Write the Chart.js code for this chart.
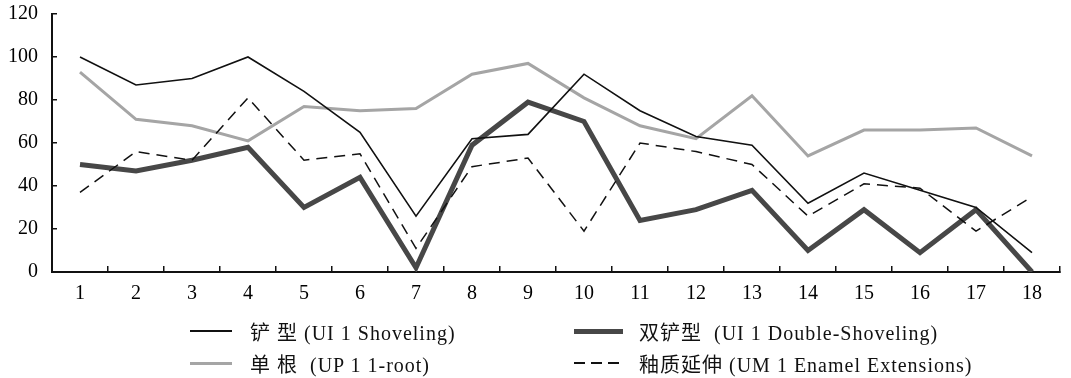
<!DOCTYPE html>
<html>
<head>
<meta charset="utf-8">
<script src="https://cdn.jsdelivr.net/npm/chart.js@4.4.1/dist/chart.umd.min.js"></script>
<style>
  html, body { margin: 0; padding: 0; background: #fff; }
  #wrap { position: relative; width: 1071px; height: 378px; overflow: hidden; }
  #plot { position: absolute; left: 0; top: -17px; width: 1071px; height: 327px; }
  #legend { position: absolute; left: 0; top: 0; width: 1071px; height: 378px; pointer-events: none;
            font-family: "Liberation Serif", "Noto Sans CJK SC", serif; font-size: 20px; letter-spacing: 1px; color: #111; }
  .item { position: absolute; height: 26px; display: flex; align-items: center; white-space: pre; }
  .swatch { display: inline-block; }
</style>
</head>
<body>
<div id="wrap">
  <div id="plot"><canvas id="chart"></canvas></div>
  <div id="legend"></div>
</div>
<script>
// Tooth numbers along the x axis
const categories = ['1','2','3','4','5','6','7','8','9','10','11','12','13','14','15','16','17','18'];

// Percentages per trait
const shoveling       = [100, 87, 90, 100, 84, 65, 26, 62, 64, 92, 75, 63, 59, 32, 46, 38, 30, 9];
const doubleShoveling = [50, 47, 52, 58, 30, 44, 2, 59, 79, 70, 24, 29, 38, 10, 29, 9, 29, 0];
const oneRoot         = [93, 71, 68, 61, 77, 75, 76, 92, 97, 81, 68, 62, 82, 54, 66, 66, 67, 54];
const enamelExt       = [37, 56, 52, 81, 52, 55, 11, 49, 53, 19, 60, 56, 50, 26, 41, 39, 19, 35];

// Series names and y-axis ticks
const seriesNames = [
  '铲 型 (UI 1 Shoveling)',
  '双铲型  (UI 1 Double-Shoveling)',
  '单 根  (UP 1 1-root)',
  '釉质延伸 (UM 1 Enamel Extensions)'
];
const yTicks = [0, 20, 40, 60, 80, 100, 120];

const font = "'Liberation Serif', 'Noto Sans CJK SC', serif";

const datasets = [
  { label: seriesNames[0], data: shoveling, borderColor: '#111', borderWidth: 1.6, order: 0 },
  { label: seriesNames[1], data: doubleShoveling, borderColor: '#474747', borderWidth: 5, order: 2 },
  { label: seriesNames[2], data: oneRoot, borderColor: '#a5a5a5', borderWidth: 3, order: 3 },
  { label: seriesNames[3], data: enamelExt, borderColor: '#111', borderWidth: 1.5, borderDash: [11, 7], order: 1 }
].map(d => Object.assign({ pointRadius: 0, tension: 0, fill: false }, d));

const chart = new Chart(document.getElementById('chart'), {
  type: 'line',
  data: { labels: categories, datasets },
  options: {
    responsive: true,
    maintainAspectRatio: false,
    animation: false,
    layout: { padding: { top: 0, right: 11, left: 0, bottom: 0 } },
    plugins: { legend: { display: false }, tooltip: { enabled: false } },
    scales: {
      x: {
        offset: true,
        grid: { offset: true, drawOnChartArea: false, tickLength: -6, color: '#111', lineWidth: 1.5 },
        border: { color: '#111', width: 2 },
        ticks: { color: '#000', padding: 16, font: { family: font, size: 20 } },
        afterFit: s => { s.height = 38; }
      },
      y: {
        min: 0, max: 120,
        afterBuildTicks: s => { s.ticks = yTicks.map(v => ({ value: v })); },
        grid: { drawOnChartArea: false, tickLength: -5, color: '#111', lineWidth: 1.5 },
        border: { color: '#111', width: 2 },
        ticks: { color: '#000', padding: 19, font: { family: font, size: 20 } },
        afterFit: s => { s.width = 52; }
      }
    }
  }
});

// Two-column legend built from the datasets
const legend = document.getElementById('legend');
const cols = [{ swatchX: 190, swatchW: 42, gap: 18 }, { swatchX: 574, swatchW: 49, gap: 16 }];
const rowsY = [331, 363];
chart.data.datasets.forEach((ds, i) => {
  const col = cols[i % 2];
  const item = document.createElement('div');
  item.className = 'item';
  item.style.left = col.swatchX + 'px';
  item.style.top = (rowsY[Math.floor(i / 2)] - 13) + 'px';
  const sw = document.createElement('span');
  sw.className = 'swatch';
  sw.style.width = col.swatchW + 'px';
  sw.style.height = ds.borderWidth + 'px';
  sw.style.marginRight = col.gap + 'px';
  sw.style.background = ds.borderDash
    ? `repeating-linear-gradient(90deg, ${ds.borderColor} 0 11px, transparent 11px 17px)`
    : ds.borderColor;
  item.appendChild(sw);
  const txt = document.createElement('span');
  txt.textContent = ds.label;
  item.appendChild(txt);
  legend.appendChild(item);
});
</script>
</body>
</html>
